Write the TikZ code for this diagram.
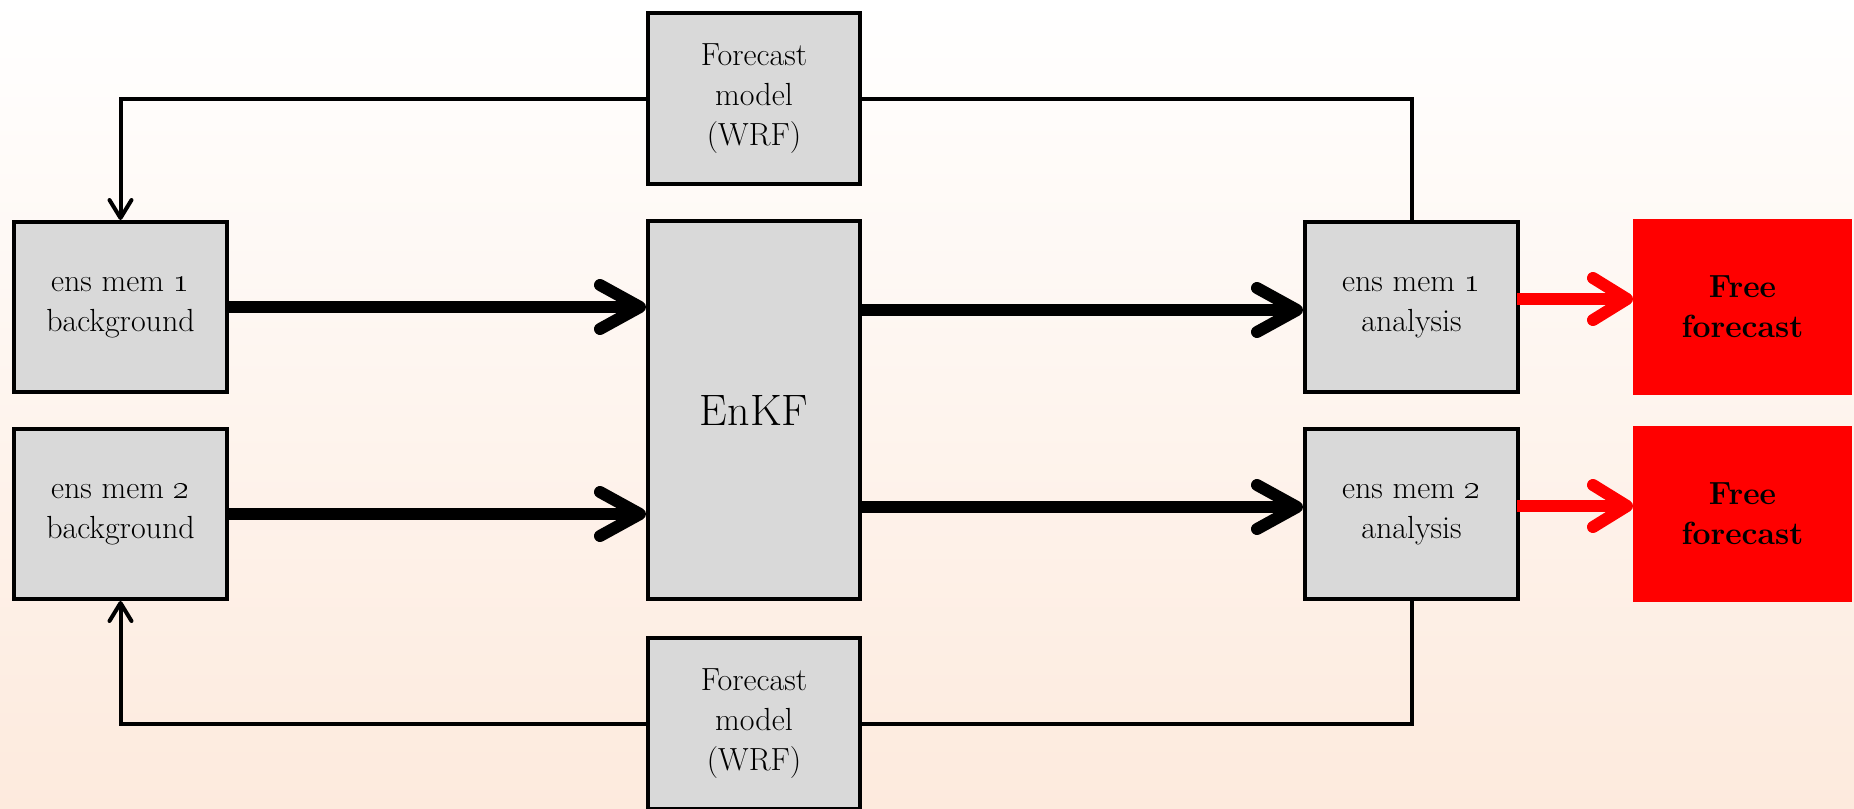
\documentclass[tikz,border=0pt]{standalone}
\usetikzlibrary{arrows.meta}
\definecolor{peach}{RGB}{253,234,221}
\definecolor{boxgray}{RGB}{217,217,217}
\begin{document}
\begin{tikzpicture}[x=0.5pt,y=-0.5pt,
  box/.style={draw=black, line width=2pt, fill=boxgray, minimum width=106.5pt,
    minimum height=85pt, inner sep=0pt, align=center,
    font=\fontsize{16}{20}\selectfont},
  ffbox/.style={fill=red, draw=none, minimum width=109.5pt, minimum height=88pt,
    inner sep=0pt, outer sep=0pt, align=center,
    font=\fontsize{16}{20}\selectfont\bfseries},
  thickarrow/.style={line width=6pt, -{Straight Barb[length=20pt,width=22pt,round]}},
  redarrow/.style={draw=red, line width=6pt, -{Straight Barb[length=17pt,width=21pt,round]}},
  thinline/.style={line width=2pt},
  thinhead/.style={-{Straight Barb[length=9pt,width=11pt,round]}}
]
\clip (0,0) rectangle (1854,809);
\shade[top color=white, bottom color=peach] (0,0) rectangle (1854,809);

\node[box] (bg1) at (120.5,307) {ens mem \oldstylenums{1}\\background};
\node[box] (bg2) at (120.5,514) {ens mem \oldstylenums{2}\\background};
\node[box, minimum width=106pt, minimum height=189pt,
  font=\fontsize{22}{26}\selectfont] (enkf) at (754,410) {EnKF};
\node[box, minimum width=106pt, minimum height=85.5pt] (fc1) at (754,98.5) {Forecast\\model\\(WRF)};
\node[box, minimum width=106pt, minimum height=85.5pt] (fc2) at (754,723.5) {Forecast\\model\\(WRF)};
\node[box] (an1) at (1411.5,307) {ens mem \oldstylenums{1}\\analysis};
\node[box] (an2) at (1411.5,514) {ens mem \oldstylenums{2}\\analysis};
\node[ffbox] (ff1) at (1742.5,307) {Free\\forecast};
\node[ffbox] (ff2) at (1742.5,514) {Free\\forecast};

% thick black arrows
\draw[thickarrow] (bg1.east) -- (bg1.east -| enkf.west);
\draw[thickarrow] (bg2.east) -- (bg2.east -| enkf.west);
\coordinate (a1in) at ([yshift=-1.5pt]an1.west);
\coordinate (a2in) at ([yshift=3.5pt]an2.west);
\draw[thickarrow] (a1in -| enkf.east) -- (a1in);
\draw[thickarrow] (a2in -| enkf.east) -- (a2in);

% red arrows
\coordinate (r1) at ([yshift=4pt,xshift=-1.5pt]an1.east);
\coordinate (r2) at ([yshift=4pt,xshift=-1.5pt]an2.east);
\draw[redarrow] (r1) -- (r1 -| ff1.west);
\draw[redarrow] (r2) -- (r2 -| ff2.west);

% forecast loops
\draw[thinline, thinhead] (fc1.west) -| (bg1.north);
\draw[thinline] (an1.north) |- (fc1.east);
\draw[thinline] (an2.south) |- (fc2.east);
\draw[thinline, thinhead] (fc2.west) -| (bg2.south);
\end{tikzpicture}
\end{document}
